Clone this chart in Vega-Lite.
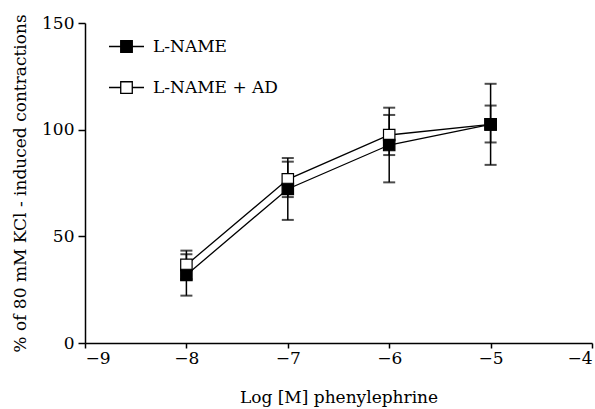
{
  "$schema": "https://vega.github.io/schema/vega-lite/v6.json",
  "width": 507,
  "height": 320,
  "autosize": {"type": "none"},
  "padding": {"left": 85, "top": 23, "right": 3, "bottom": 66},
  "background": "white",
  "config": {
    "view": {"stroke": null},
    "font": "DejaVu Serif",
    "axis": {
      "domainColor": "black",
      "domainWidth": 1.5,
      "tickColor": "black",
      "tickWidth": 1.5,
      "labelColor": "black",
      "titleColor": "black",
      "labelFont": "DejaVu Serif",
      "titleFont": "DejaVu Serif",
      "labelFontSize": 17,
      "titleFontSize": 17,
      "titleFontWeight": "normal",
      "grid": false
    },
    "legend": {
      "labelFont": "DejaVu Serif"
    }
  },
  "data": {
    "values": [
      {"group": "L-NAME + AD", "x": -8, "mean": 36.6, "lo": 29.9, "hi": 43.3},
      {"group": "L-NAME + AD", "x": -7, "mean": 76.7, "lo": 68.4, "hi": 85.0},
      {"group": "L-NAME + AD", "x": -6, "mean": 97.5, "lo": 88.1, "hi": 106.9},
      {"group": "L-NAME + AD", "x": -5, "mean": 102.5, "lo": 94.0, "hi": 111.3},
      {"group": "L-NAME", "x": -8, "mean": 31.9, "lo": 22.2, "hi": 41.6},
      {"group": "L-NAME", "x": -7, "mean": 72.2, "lo": 57.7, "hi": 86.7},
      {"group": "L-NAME", "x": -6, "mean": 92.8, "lo": 75.3, "hi": 110.3},
      {"group": "L-NAME", "x": -5, "mean": 102.5, "lo": 83.5, "hi": 121.5}
    ]
  },
  "layer": [
    {
      "mark": {"type": "rule", "color": "black", "strokeWidth": 1.5},
      "encoding": {
        "x": {"field": "x", "type": "quantitative", "scale": {"domain": [-9, -4], "nice": false},
          "axis": {"values": [-9, -8, -7, -6, -5, -4], "format": "d", "title": "Log [M] phenylephrine", "tickSize": 5, "labelPadding": 2, "titlePadding": 23}},
        "y": {"field": "lo", "type": "quantitative", "scale": {"domain": [0, 150], "nice": false},
          "axis": {"values": [0, 50, 100, 150], "format": "d", "title": "% of 80 mM KCl - induced contractions", "tickSize": 7, "labelPadding": 4, "titlePadding": 12}},
        "y2": {"field": "hi"}
      }
    },
    {
      "mark": {"type": "tick", "orient": "horizontal", "color": "black", "size": 12, "thickness": 2},
      "encoding": {
        "x": {"field": "x", "type": "quantitative"},
        "y": {"field": "lo", "type": "quantitative"}
      }
    },
    {
      "mark": {"type": "tick", "orient": "horizontal", "color": "black", "size": 12, "thickness": 2},
      "encoding": {
        "x": {"field": "x", "type": "quantitative"},
        "y": {"field": "hi", "type": "quantitative"}
      }
    },
    {
      "mark": {"type": "line", "color": "black", "strokeWidth": 1.3},
      "encoding": {
        "x": {"field": "x", "type": "quantitative"},
        "y": {"field": "mean", "type": "quantitative"},
        "detail": {"field": "group"},
        "order": {"field": "x"}
      }
    },
    {
      "mark": {"type": "point", "shape": "square", "filled": true, "stroke": "black", "strokeWidth": 1.2, "size": 130, "opacity": 1},
      "encoding": {
        "x": {"field": "x", "type": "quantitative"},
        "y": {"field": "mean", "type": "quantitative"},
        "fill": {
          "field": "group",
          "type": "nominal",
          "scale": {"domain": ["L-NAME", "L-NAME + AD"], "range": ["black", "white"]},
          "legend": {
            "title": null,
            "orient": "none",
            "legendX": 23,
            "legendY": 5,
            "padding": 0,
            "symbolType": "M-1,0H-0.33M0.33,0H1M-0.33,-0.33H0.33V0.33H-0.33Z",
            "symbolSize": 1225,
            "symbolStrokeColor": "black",
            "symbolStrokeWidth": 1.3,
            "symbolOpacity": 1,
            "rowPadding": 14,
            "labelOffset": 8,
            "labelFont": "DejaVu Serif",
            "labelFontSize": 17,
            "labelColor": "black"
          }
        }
      }
    }
  ]
}
